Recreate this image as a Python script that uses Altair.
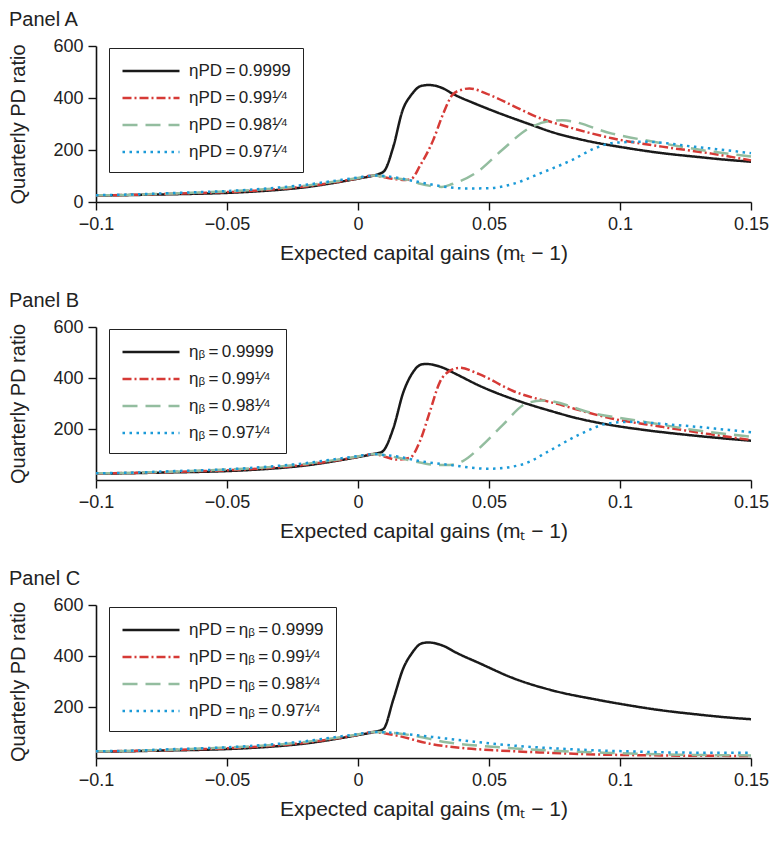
import altair as alt
import pandas as pd

FONT = "Liberation Sans"

# ---- common left part (all curves nearly coincide for m_t - 1 < 0.006) ----
X_LEFT = [-0.1, -0.09, -0.08, -0.07, -0.06, -0.05, -0.04, -0.03, -0.02, -0.01, 0.0, 0.006]
LEFT_BLACK = [25, 26, 28, 30, 32, 35, 40, 47, 57, 72, 90, 102]
LEFT_RED = [25, 27, 29, 32, 35, 38, 43, 50, 60, 74, 91, 102]
LEFT_GREEN = [26, 27, 30, 33, 37, 41, 46, 53, 63, 77, 92, 102]
LEFT_BLUE = [26, 28, 31, 35, 38, 42, 48, 56, 66, 80, 94, 102]

# ---- Panel A (eta_PD) ----
A_BLACK_X = [0.008, 0.010, 0.0135, 0.017, 0.0205, 0.024, 0.027, 0.0325, 0.036, 0.045, 0.053, 0.065, 0.075, 0.087, 0.103, 0.116, 0.128, 0.140, 0.150]
A_BLACK_Y = [108, 119, 213, 352, 414, 446, 450, 437, 417, 377, 345, 301, 266, 236, 207, 188, 175, 163, 155]
A_RED_X = [0.010, 0.015, 0.018, 0.0205, 0.0236, 0.0287, 0.0325, 0.0362, 0.040, 0.0425, 0.049, 0.059, 0.070, 0.078, 0.097, 0.116, 0.135, 0.150]
A_RED_Y = [95, 87, 85, 90, 138, 238, 339, 414, 433, 437, 417, 371, 320, 295, 245, 213, 186, 160]
A_GREEN_X = [0.010, 0.015, 0.019, 0.023, 0.0275, 0.032, 0.036, 0.045, 0.055, 0.065, 0.073, 0.078, 0.097, 0.116, 0.135, 0.150]
A_GREEN_Y = [97, 90, 85, 72, 62, 58, 69, 112, 200, 282, 311, 314, 263, 226, 194, 175]
A_BLUE_X = [0.010, 0.015, 0.0236, 0.035, 0.041, 0.050, 0.059, 0.070, 0.082, 0.0905, 0.098, 0.1095, 0.128, 0.150]
A_BLUE_Y = [100, 93, 76, 56, 52, 53, 69, 112, 163, 207, 228, 232, 213, 188]

# ---- Panel B (eta_beta) ----
B_BLACK_X = [0.0091, 0.0135, 0.0173, 0.0205, 0.0242, 0.026, 0.0325, 0.0375, 0.0463, 0.0627, 0.0728, 0.0842, 0.0968, 0.1095, 0.1284, 0.150]
B_BLACK_Y = [110, 203, 344, 415, 453, 455, 440, 415, 370, 305, 273, 241, 215, 196, 174, 154]
B_RED_X = [0.010, 0.0148, 0.0198, 0.0236, 0.0274, 0.0312, 0.035, 0.0388, 0.0463, 0.059, 0.078, 0.0968, 0.1158, 0.1347, 0.150]
B_RED_Y = [92, 80, 87, 151, 267, 383, 428, 440, 415, 350, 293, 241, 209, 179, 157]
B_GREEN_X = [0.010, 0.015, 0.0211, 0.030, 0.035, 0.040, 0.0463, 0.0552, 0.064, 0.0703, 0.0905, 0.1095, 0.1284, 0.150]
B_GREEN_Y = [97, 88, 74, 59, 59, 74, 125, 215, 299, 312, 260, 228, 196, 170]
B_BLUE_X = [0.010, 0.015, 0.0236, 0.035, 0.050, 0.0627, 0.0728, 0.0842, 0.0956, 0.1031, 0.122, 0.150]
B_BLUE_Y = [98, 92, 74, 59, 44, 61, 113, 177, 222, 228, 215, 187]

# ---- Panel C (eta_PD = eta_beta) ----
C_BLACK_X = [0.0097, 0.0135, 0.0173, 0.0205, 0.0242, 0.0268, 0.0325, 0.0375, 0.0463, 0.059, 0.0754, 0.0905, 0.1031, 0.1158, 0.1284, 0.1411, 0.150]
C_BLACK_Y = [114, 230, 352, 410, 449, 453, 440, 413, 372, 314, 262, 230, 207, 187, 172, 159, 152]
C_RED_X = [0.010, 0.0148, 0.0274, 0.040, 0.0527, 0.0716, 0.0905, 0.1158, 0.150]
C_RED_Y = [97, 88, 56, 39, 30, 21, 14, 10, 8]
C_GREEN_X = [0.010, 0.0148, 0.0211, 0.0337, 0.0527, 0.0716, 0.0968, 0.122, 0.150]
C_GREEN_Y = [101, 97, 88, 62, 43, 30, 20, 13, 10]
C_BLUE_X = [0.010, 0.0148, 0.0236, 0.040, 0.059, 0.078, 0.1031, 0.1284, 0.150]
C_BLUE_Y = [101, 98, 88, 69, 49, 36, 26, 21, 21]

SUP = "\u00b9\u2044\u2074"  # superscript 1/4
EQ = "\u2009=\u2009"
VALUES = ["0.9999", "0.99" + SUP, "0.98" + SUP, "0.97" + SUP]
LABELS_A = ["ηPD" + EQ + v for v in VALUES]
LABELS_B = ["ηᵦ" + EQ + v for v in VALUES]
LABELS_C = ["ηPD" + EQ + "ηᵦ" + EQ + v for v in VALUES]

COLORS = ["#1a1a1a", "#d63a36", "#93bd9f", "#1b9ad8"]
DASHES = [[1, 0], [9, 3, 2, 3], [15, 8], [2.5, 4.5]]
X_TICKS = [-0.1, -0.05, 0, 0.05, 0.1, 0.15]
X_TICK_TEXT = ["−0.1", "−0.05", "0", "0.05", "0.1", "0.15"]

LABEL_EXPR = " : ".join(
    f"abs(datum.value - ({v})) < 1e-9 ? '{t}'" for v, t in zip(X_TICKS, X_TICK_TEXT)
) + " : ''"


def build(labels, parts):
    rows = []
    lefts = [LEFT_BLACK, LEFT_RED, LEFT_GREEN, LEFT_BLUE]
    for i, (lab, (xs, ys)) in enumerate(zip(labels, parts)):
        allx = X_LEFT + xs
        ally = lefts[i] + ys
        for j, (x, y) in enumerate(zip(allx, ally)):
            rows.append({"series": lab, "x": x, "y": y, "k": i, "j": j})
    return pd.DataFrame(rows)


def panel(title, labels, parts, yticks, height):
    df = build(labels, parts)
    leg = alt.Legend(title=None, orient="none", legendX=13, legendY=2)
    return alt.Chart(df).mark_line(strokeWidth=2.5, interpolate="monotone").encode(
        x=alt.X("x:Q",
                scale=alt.Scale(domain=[-0.1, 0.15], nice=False, zero=False),
                axis=alt.Axis(values=X_TICKS, labelExpr=LABEL_EXPR, labelFlush=False,
                              labelOverlap=False,
                              title="Expected capital gains (mₜ − 1)")),
        y=alt.Y("y:Q",
                scale=alt.Scale(domain=[0, 600], nice=False),
                axis=alt.Axis(values=yticks, title="Quarterly PD ratio")),
        color=alt.Color("series:N",
                        scale=alt.Scale(domain=labels, range=COLORS),
                        legend=leg),
        strokeDash=alt.StrokeDash("series:N",
                                  scale=alt.Scale(domain=labels, range=DASHES),
                                  legend=leg),
        order="j:Q",
    ).properties(
        width=655, height=height,
        title=alt.TitleParams(title, anchor="start", frame="bounds", fontSize=20,
                              fontWeight="normal", font=FONT, color="#222", offset=7),
    )


pA = panel("Panel A", LABELS_A,
           [(A_BLACK_X, A_BLACK_Y), (A_RED_X, A_RED_Y), (A_GREEN_X, A_GREEN_Y), (A_BLUE_X, A_BLUE_Y)],
           [0, 200, 400, 600], 156)
pB = panel("Panel B", LABELS_B,
           [(B_BLACK_X, B_BLACK_Y), (B_RED_X, B_RED_Y), (B_GREEN_X, B_GREEN_Y), (B_BLUE_X, B_BLUE_Y)],
           [200, 400, 600], 153)
pC = panel("Panel C", LABELS_C,
           [(C_BLACK_X, C_BLACK_Y), (C_RED_X, C_RED_Y), (C_GREEN_X, C_GREEN_Y), (C_BLUE_X, C_BLUE_Y)],
           [200, 400, 600], 153)

chart = alt.vconcat(pA, pB, pC, spacing=28).resolve_scale(
    color="independent", strokeDash="independent"
).resolve_legend(color="independent", strokeDash="independent").configure_view(
    stroke=None
).configure_axis(
    grid=False, domainColor="#111", domainWidth=1.6, tickColor="#111", tickWidth=1.4,
    tickSize=8, labelFont=FONT, labelFontSize=18, labelColor="#222", labelPadding=5,
    titleFont=FONT, titleFontSize=20, titleFontWeight="normal", titleColor="#222",
).configure_axisX(titlePadding=9, titleFontSize=21).configure_axisY(titlePadding=24).configure_legend(
    symbolType="M-1,0H5", symbolSize=361, symbolStrokeWidth=2.5, strokeColor="#222",
    fillColor="white", padding=12, rowPadding=8, labelFont=FONT, labelFontSize=17,
    labelColor="#222", labelOffset=46, cornerRadius=0, labelLimit=400,
).properties(padding={"left": 0, "top": 2, "right": 0, "bottom": 8})

chart.save("out.html", embed_options={"renderer": "svg", "actions": False})
